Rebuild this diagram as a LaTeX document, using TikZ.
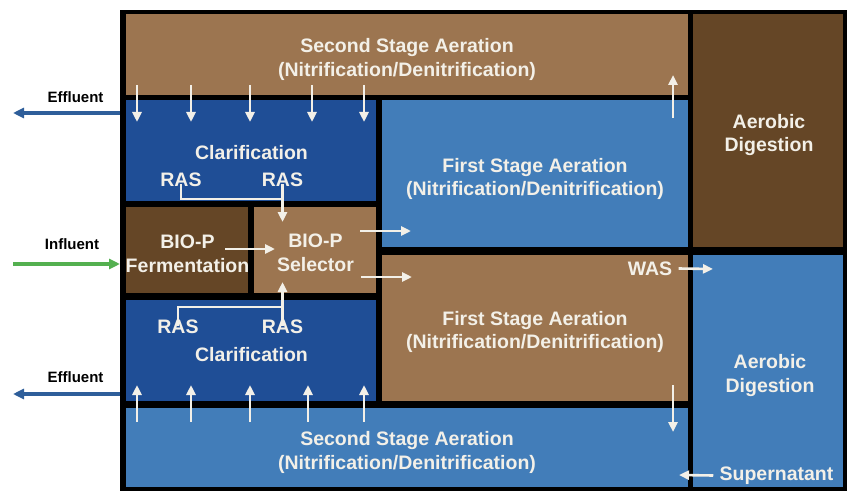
\documentclass[tikz,border=0pt]{standalone}
\usepackage{fontspec}
\setmainfont{Liberation Sans}
\usetikzlibrary{arrows.meta}
\definecolor{tan}{RGB}{156,117,80}
\definecolor{darkbrown}{RGB}{101,70,38}
\definecolor{darkblue}{RGB}{31,78,150}
\definecolor{midblue}{RGB}{66,125,185}
\definecolor{cream}{RGB}{243,240,232}
\definecolor{effblue}{RGB}{46,94,154}
\definecolor{infgreen}{RGB}{84,176,80}
\tikzset{every picture/.style={line width=0.75pt}}
\tikzset{
  tank/.style={anchor=north west, inner sep=0pt, outer sep=0pt, draw=none},
  tanktext/.style={text=cream, font=\bfseries\fontsize{19.5}{23.5}\selectfont, align=center, inner sep=0pt},
  sidetext/.style={text=black, font=\bfseries\fontsize{15}{18}\selectfont, inner sep=0pt},
  flow/.style={draw=cream, line width=2.6pt, -{Triangle[length=10pt,width=9pt]}},
  ras/.style={draw=cream, line width=2.4pt},
  pipe/.style={line width=3.2pt, -{Triangle[length=11pt,width=10pt]}},
}

\begin{document}
\begin{tikzpicture}[x=1pt,y=1pt,yscale=-1,xscale=1]

\useasboundingbox (0,0) rectangle (848,492);

%Shape: Frame
\node[tank, fill=black, minimum width=727pt, minimum height=481pt] (frame) at (120,10) {};

%Shape: Tanks
\node[tank, fill=tan, minimum width=562pt, minimum height=81pt] (ssa1) at (126,14) {};
\node[tank, fill=darkbrown, minimum width=150pt, minimum height=233pt] (ad1) at (693,14) {};
\node[tank, fill=darkblue, minimum width=250pt, minimum height=101pt] (cla1) at (126,100) {};
\node[tank, fill=midblue, minimum width=306pt, minimum height=147pt] (fsa1) at (382,100) {};
\node[tank, fill=darkbrown, minimum width=122pt, minimum height=86pt] (ferm) at (126,207) {};
\node[tank, fill=tan, minimum width=122pt, minimum height=86pt] (sel) at (254,207) {};
\node[tank, fill=tan, minimum width=306pt, minimum height=146pt] (fsa2) at (382,255) {};
\node[tank, fill=darkblue, minimum width=250pt, minimum height=101pt] (cla2) at (126,300) {};
\node[tank, fill=midblue, minimum width=562pt, minimum height=79pt] (ssa2) at (126,408) {};
\node[tank, fill=midblue, minimum width=150pt, minimum height=232pt] (ad2) at (693,255) {};

% Text Node
\node[tanktext] (ssa1t) at (407,59.5) {Second Stage Aeration\\(Nitrification/Denitrification)};
\node[tanktext] (ad1t) at (769,135) {Aerobic\\Digestion};
\node[tanktext] (cla1t) at (251.5,152.5) {Clarification};
\node[tanktext] (rasa) at (181,180) {RAS};
\node[tanktext] (rasb) at (282.5,180) {RAS};
\node[tanktext] (fsa1t) at (535,179) {First Stage Aeration\\(Nitrification/Denitrification)};
\node[tanktext] (fermt) at (187.5,254) {BIO-P\\Fermentation};
\node[tanktext] (selt) at (315.5,253) {BIO-P\\Selector};
\node[tanktext] (was) at (650,268.5) {WAS};
\node[tanktext] (fsa2t) at (535,332) {First Stage Aeration\\(Nitrification/Denitrification)};
\node[tanktext] (rasc) at (178,327) {RAS};
\node[tanktext] (rasd) at (282.5,327) {RAS};
\node[tanktext] (cla2t) at (251.5,355) {Clarification};
\node[tanktext] (ad2t) at (770,375.5) {Aerobic\\Digestion};
\node[tanktext] (ssa2t) at (407,452.5) {Second Stage Aeration\\(Nitrification/Denitrification)};
\node[tanktext] (sup) at (776.5,475.5) {Supernatant};

\node[sidetext] (eff1t) at (75.5,97) {Effluent};
\node[sidetext] (inft) at (72,244) {Influent};
\node[sidetext] (eff2t) at (75.5,377.5) {Effluent};

%Straight Lines: down into the upper clarifier, up into the lower one
\foreach \x [count=\i] in {137,191,250,312,364} {
  \coordinate (dt\i) at (\x,85);
  \coordinate (dh\i) at (\x,122);
  \draw[flow] (dt\i) -- (dh\i);
}
\foreach \x [count=\i] in {137,191,250,308,364} {
  \coordinate (ut\i) at (\x,422);
  \coordinate (uh\i) at (\x,385);
  \draw[flow] (ut\i) -- (uh\i);
}

%Straight Lines: RAS returns
\coordinate (rasjoin1) at (282.5,199);
\coordinate (rastip1) at (282.5,222);
\draw[ras] ([yshift=-3pt]rasa.south) |- (rasjoin1);
\draw[flow] ([yshift=-3pt]rasb.south) -- (rastip1);
\coordinate (rasjoin2) at (282.5,307);
\coordinate (rastip2) at (282.5,282);
\draw[ras] ([yshift=6pt]rasc.north) |- (rasjoin2);
\draw[flow] ([yshift=6pt]rasd.north) -- (rastip2);

%Straight Lines: flows between tanks
\coordinate (fs1) at (225,249);
\coordinate (fs2) at (275,249);
\draw[flow] (fs1) -- (fs2);
\coordinate (sf1) at (360,231);
\coordinate (sf2) at (411,231);
\draw[flow] (sf1) -- (sf2);
\coordinate (sf3) at (361,277);
\coordinate (sf4) at (412,277);
\draw[flow] (sf3) -- (sf4);
\coordinate (up1) at (673,118);
\coordinate (up2) at (673,75);
\draw[flow] (up1) -- (up2);
\coordinate (dn1) at (673,385);
\coordinate (dn2) at (673,432);
\draw[flow] (dn1) -- (dn2);
\coordinate (wastip) at (713,269);
\draw[flow] ([xshift=6pt]was.east) -- (wastip);
\coordinate (suptip) at (679,475);
\draw[flow] ([xshift=-6pt]sup.west) -- (suptip);

%Straight Lines: effluent and influent pipes
\coordinate (eff1) at (13,113);
\coordinate (inf) at (13,264);
\coordinate (eff2) at (13,394);
\draw[pipe, effblue] (frame.west |- eff1) -- (eff1);
\draw[pipe, infgreen] (inf) -- (frame.west |- inf);
\draw[pipe, effblue] (frame.west |- eff2) -- (eff2);

\end{tikzpicture}
\end{document}
